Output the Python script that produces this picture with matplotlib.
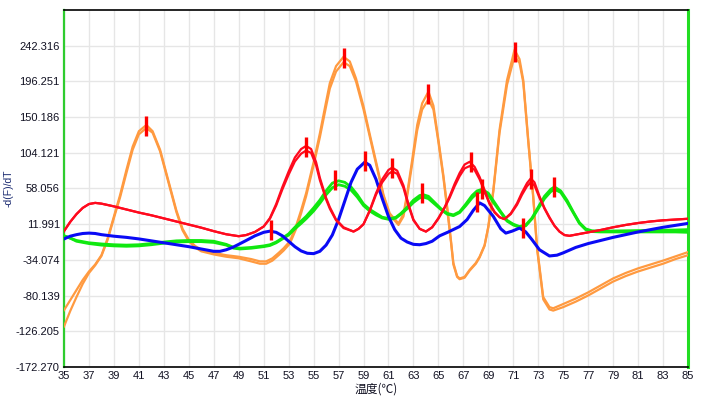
import matplotlib
matplotlib.use("Agg")
import matplotlib.pyplot as plt

# melt-curve derivative data
red_t = [35, 35.5, 36, 36.5, 37, 37.5, 38, 39, 40, 41, 42, 43, 44, 45, 46, 47, 48, 49,
         49.6, 50.3, 51, 51.5, 52, 52.5, 53, 53.5, 54, 54.4, 54.8, 55.2, 55.5, 56, 56.3,
         56.8, 57.4, 58.2, 58.6, 59, 59.5, 60, 60.5, 61, 61.3, 61.7, 62.2, 62.6, 63, 63.5,
         64, 64.5, 65, 65.5, 65.9, 66.3, 66.7, 67.1, 67.5, 67.9, 68.3, 68.7, 69.1, 69.5,
         69.9, 70.3, 70.8, 71.3, 71.7, 72.1, 72.4, 72.7, 73.1, 73.5, 73.9, 74.3, 74.7,
         75.1, 75.5, 76.3, 77, 78, 79, 80, 81, 82, 83, 84, 85]
red_a = [3, 15, 25, 33, 38, 39.5, 38.5, 35, 31, 27, 23.5, 19.5, 15.5, 11.5, 7.5, 3, -1, -3.5,
         -2, 2, 9, 20, 38, 60, 80, 98, 109, 113, 109, 92, 72, 46, 34,
         18, 8, 2.5, 6, 12, 30, 52, 70, 82, 85, 81, 62, 38, 18, 6,
         2.5, 8, 20, 34, 48, 64, 78, 89, 92.5, 86, 73, 56, 39, 28,
         21, 18.5, 26, 39, 53, 65, 71, 66, 48, 33, 21, 10, 2.5,
         -2, -3, -0.6, 1.5, 4.5, 8, 11, 13.5, 15.5, 17, 18, 19]
red_b = [3, 15, 25, 33, 38, 39.5, 38.5, 35, 31, 27, 23.5, 19.5, 15.5, 11.5, 7.5, 3, -1, -3.5,
         -2, 2, 9, 19, 36, 57, 76, 93, 103, 107, 104, 88, 69, 44, 32,
         17, 7, 2.5, 6, 12, 29, 50, 66, 77, 80, 77, 59, 36, 17, 6,
         2.5, 8, 19, 33, 46, 61, 74, 84, 87, 82, 70, 54, 38, 27,
         21, 18.5, 25, 37, 50, 61, 66, 62, 46, 32, 20, 10, 2.5,
         -2, -3, -0.6, 1.5, 4.5, 8, 11, 13.5, 15.5, 17, 18, 19]

orange_t = [35, 35.5, 36, 36.5, 37, 37.5, 38, 38.5, 39, 39.5, 40, 40.5, 41, 41.6, 42.1, 42.7,
            43.1, 43.5, 44, 44.5, 45, 45.5, 46, 47, 48, 49, 50, 50.7, 51.2, 51.7, 52.2, 52.6,
            53.1, 53.6, 54, 54.4, 55, 55.5, 56, 56.3, 56.8, 57.4, 57.9, 58.4, 59, 59.5, 60.1,
            60.6, 61.1, 61.8, 62.2, 62.5, 62.9, 63.3, 63.7, 64.2, 64.6, 65, 65.4, 65.7, 66,
            66.2, 66.5, 66.7, 67.1, 67.5, 68, 68.3, 68.7, 69, 69.4, 69.9, 70.5, 71.1, 71.5,
            71.8, 72.2, 72.6, 72.9, 73.4, 73.9, 74.2, 75, 76, 77, 78, 79, 80, 81, 82, 83, 84, 85]
orange_a = [-99, -86, -73, -60, -49, -40, -28, -6, 22, 50, 82, 112, 132, 140, 132, 108,
            84, 60, 30, 6, -8, -16, -21, -25, -28, -30, -33, -36, -36, -32, -25, -19,
            -10, 10, 30, 52, 92, 129, 170, 194, 216, 228, 222, 200, 164, 128, 86,
            50, 26, 13, 25, 52, 95, 140, 168, 183, 165, 121, 75, 35, -8,
            -38, -55, -58, -56, -47, -38, -30, -15, 9, 56, 134, 198, 237, 225,
            198, 121, 48, -17, -82, -95, -96.5, -91, -84, -76, -67, -58, -51, -45, -40, -35, -29.5, -24]
orange_b = [-120, -100, -82, -65, -51, -41, -29, -8, 20, 47, 78, 108, 128, 136, 130, 106,
            82, 58, 28, 4, -10, -18, -23, -27, -30, -32, -36, -39, -39, -35, -28, -22,
            -13, 6, 26, 48, 88, 124, 164, 187, 209, 221, 216, 196, 160, 125, 83,
            48, 24, 11, 22, 48, 90, 133, 160, 173, 160, 118, 72, 32, -10,
            -40, -56, -59, -57, -48, -39, -31, -16, 8, 54, 130, 192, 229, 220,
            195, 118, 46, -19, -85, -98, -99.5, -95, -88, -80, -71, -62, -55, -49, -44, -39, -33, -28]

green_t = [35, 35.5, 36, 37, 38, 39, 40, 41, 42, 43, 44, 45, 46, 47, 48, 48.6, 49.1, 50,
           51, 51.5, 52, 52.5, 53, 53.5, 54, 54.4, 55, 55.5, 56, 56.5, 57, 57.5, 58, 58.5,
           59, 59.5, 60, 60.5, 61.1, 61.6, 62, 62.5, 63, 63.5, 63.8, 64.2, 64.7, 65.2, 65.7,
           66.2, 66.7, 67.2, 67.7, 68.1, 68.5, 69, 69.5, 70, 70.5, 71, 71.5, 72, 72.5, 73,
           73.5, 74, 74.3, 74.8, 75.3, 75.8, 76.3, 76.8, 77.3, 78, 80, 82, 84, 85]
green_a = [-3, -6, -9, -12, -13.5, -14.5, -15, -14.5, -13, -11, -9.5, -9, -9, -10, -14, -18, -19, -18,
           -16, -14.5, -11, -6, -0.5, 8, 16, 22, 33, 43, 55, 65, 68, 66, 60, 50,
           38, 31, 26, 21, 19, 21, 26, 34, 43, 49, 50, 48, 40, 32, 26,
           24, 28, 38, 49, 55, 57, 52, 40, 28, 17, 12, 9, 11, 20, 34,
           48, 57, 60, 55, 43, 28, 14, 6, 3.5, 3, 3.5, 4, 4.5, 5]
green_b = [-3, -6, -10, -13, -15, -16, -16.5, -16, -14.5, -12.5, -11, -10.5, -10.5, -11.5, -15, -19, -20, -19,
           -17, -15.5, -12, -7, -2, 6, 13, 19, 29, 39, 50, 59, 63, 61, 56, 47,
           36, 29, 24, 20, 18, 20, 25, 32, 40, 46, 47, 45, 38, 31, 25,
           23, 27, 36, 46, 52, 54, 50, 38, 27, 16, 11, 8, 10, 19, 32,
           45, 54, 57, 53, 41, 27, 13, 5, 2.5, 2, 2, 2, 2, 1.5]

blue_t = [35, 35.5, 36, 36.5, 37, 37.5, 38, 39, 40, 41, 42, 43, 44, 45, 46, 47, 47.5, 48,
          48.5, 49, 49.6, 50.3, 51, 51.5, 52, 52.5, 53, 53.5, 54, 54.5, 55, 55.5, 56, 56.5,
          57, 57.5, 58, 58.5, 59.1, 59.5, 60, 60.5, 61, 61.5, 62, 62.5, 63, 63.5, 64, 64.5,
          65.1, 65.8, 66.7, 67.3, 67.8, 68.3, 68.7, 69.4, 70, 70.4, 70.9, 71.5, 72, 72.5,
          73.1, 73.9, 74.5, 75, 76, 77, 78, 79, 80, 81, 82, 83, 84, 85]
blue_v = [-7, -3.5, -1.5, 0, 0.5, 0, -1.5, -3.5, -5, -7, -9.5, -12, -14.5, -17, -20, -23, -23, -21,
          -18, -14, -9, -3, 1.5, 3, 1.5, -3, -10, -17, -22.5, -25.5, -26, -23, -15, -2,
          18, 42, 66, 83, 92, 88, 70, 45, 22, 5, -6, -11, -14, -14.5, -13, -10,
          -3, 2, 9, 18, 30, 39.5, 36, 22, 6, 0.5, 3, 7, 2, -8,
          -21, -29, -28, -25, -18, -13, -9, -5, -1.5, 2, 5, 8, 10.5, 13]

# peak markers (temperature, value)
peak_t = [41.6, 51.6, 54.4, 56.7, 57.4, 59.1, 61.3, 63.7, 64.2, 67.6, 68.5, 68.1, 71.1, 71.8, 72.4, 74.3]
peak_v = [139, 4, 112, 69, 226, 93, 85, 52, 180, 92, 57, 41, 234, 7, 70, 60]

ytick_vals = [-172.270, -126.205, -80.139, -34.074, 11.991, 58.056, 104.121, 150.186, 196.251, 242.316]
ytick_labels = ["-172.270", "-126.205", "-80.139", "-34.074", "11.991",
                "58.056", "104.121", "150.186", "196.251", "242.316"]
xtick_vals = list(range(35, 86, 2))

plt.rcParams['font.family'] = ['Liberation Sans', 'DejaVu Sans']

fig = plt.figure(figsize=(7.06, 3.98), dpi=100)
ax = fig.add_axes([64 / 706, 1 - 367 / 398, 624 / 706, 357 / 398])

ax.plot(orange_t, orange_a, color='#ff9a40', lw=1.6, zorder=3)
ax.plot(orange_t, orange_b, color='#ff9a40', lw=1.6, zorder=3)
ax.plot(green_t, green_a, color='#10e810', lw=2.0, zorder=4)
ax.plot(green_t, green_b, color='#10e810', lw=2.0, zorder=4)
ax.plot(blue_t, blue_v, color='#0a0af5', lw=2.2, zorder=5)
ax.plot(red_t, red_a, color='#ff0a1e', lw=1.6, zorder=6)
ax.plot(red_t, red_b, color='#ff0a1e', lw=1.6, zorder=6)
ax.plot(peak_t, peak_v, linestyle='none', marker='|', ms=14, mew=2.4,
        color='#ff0000', zorder=7)

ax.set_xlim(35, 85)
ax.set_ylim(-172.270, 288.381)
ax.set_xticks(xtick_vals)
ax.set_xticklabels([str(v) for v in xtick_vals])
ax.set_yticks(ytick_vals)
ax.set_yticklabels(ytick_labels)
ax.tick_params(length=0, labelsize=8, colors='#111122', pad=3)
ax.grid(True, color='#e6e6e6', lw=1)
ax.set_axisbelow(True)

for side in ['top', 'bottom']:
    ax.spines[side].set_color('black')
    ax.spines[side].set_linewidth(1.2)
ax.spines['left'].set_color('#2ecc2e')
ax.spines['left'].set_linewidth(1.6)
ax.spines['right'].set_color('#22dd22')
ax.spines['right'].set_linewidth(2.2)

ax.set_xlabel('温度(℃)', fontsize=8.5, family=['Noto Sans CJK SC', 'DejaVu Sans'],
              color='#111122', labelpad=1)
ax.set_ylabel('-d(F)/dT', fontsize=7.5, color='#1a2a70')
ax.yaxis.set_label_coords(-50 / 624, 0.5)

fig.savefig('out.png', dpi=100)
